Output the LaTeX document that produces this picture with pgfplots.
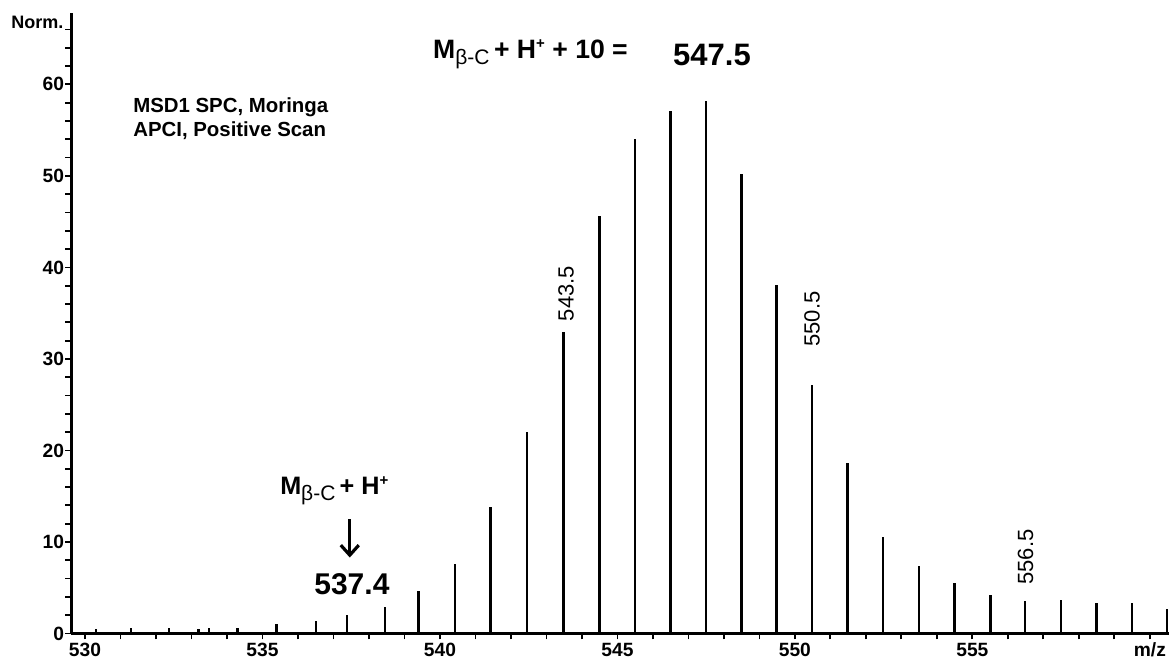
\documentclass[border=0pt]{standalone}
\usepackage{fontspec}
\setmainfont{Liberation Sans}
\usepackage{pgfplots}
\pgfplotsset{compat=1.18}
\usetikzlibrary{arrows.meta}

\pgfplotstableread{
mz     norm
530.31 0.45
531.30 0.55
532.37 0.55
533.20 0.50
533.49 0.60
534.30 0.65
535.40 1.00
536.50 1.35
537.38 2.00
538.46 2.90
539.40 4.60
540.42 7.60
541.42 13.8
542.45 22.0
543.48 32.9
544.50 45.6
545.50 54.0
546.50 57.1
547.50 58.2
548.50 50.2
549.48 38.1
550.48 27.1
551.48 18.6
552.48 10.5
553.50 7.40
554.50 5.50
555.51 4.26
556.49 3.56
557.49 3.70
558.50 3.28
559.49 3.28
560.49 2.66
}\spectrum

\newcommand{\lbl}{\bfseries\fontsize{9.6}{11}\selectfont}
\newcommand{\mbc}{M\raisebox{-0.45ex}{\mdseries\fontsize{10.5}{10.5}\selectfont β-C}\,+ H\raisebox{0.7ex}{\fontsize{7.5}{7.5}\selectfont +}}

\begin{document}
\begin{tikzpicture}
\useasboundingbox (0,0) rectangle (585pt,331pt);
\begin{axis}[at={(35.75pt,14.25pt)},anchor=south west,scale only axis,
  width=548.75pt,height=310.25pt,
  xmin=529.62,xmax=560.54,ymin=0,ymax=67.8,clip=false,
  axis lines=left,axis line style={-,line width=1.1pt},
  tick align=outside,major tick length=3pt,minor tick length=3pt,
  every tick/.style={black,line width=0.9pt},
  xtick={530,535,540,545,550,555,560},
  xticklabels={530,535,540,545,550,555,m/z},
  minor xtick={531,532,533,534,536,537,538,539,541,542,543,544,546,547,548,549,551,552,553,554,556,557,558,559},
  ytick={0,10,20,30,40,50,60},
  minor ytick={2,4,6,8,12,14,16,18,22,24,26,28,32,34,36,38,42,44,46,48,52,54,56,58,62,64,66},
  /pgf/number format/assume math mode=true,
  /pgf/number format/1000 sep={},
  ticklabel style={font=\lbl},
  yticklabel style={inner xsep=0.5pt},
  xticklabel style={inner ysep=1.5pt}]
\addplot[ycomb,black,line width=1.2pt,mark=none] table[x=mz,y=norm]{\spectrum};

\node[anchor=east,font=\bfseries\fontsize{9}{10}\selectfont,inner sep=0pt] at (axis cs:529.4,66.8) {Norm.};
\node[anchor=north west,align=left,font=\bfseries\fontsize{10.2}{12}\selectfont,inner sep=0pt] at (axis cs:531.35,58.6)
  {MSD1 SPC, Moringa\\[0pt]APCI, Positive Scan};

\node[anchor=west,font=\bfseries\fontsize{13.3}{15}\selectfont,inner sep=0pt] at (axis cs:539.8,63.3) {\mbc{} + 10 =};
\node[anchor=west,font=\bfseries\fontsize{15.5}{17}\selectfont,inner sep=0pt] at (axis cs:546.56,63.2) {547.5};

\node[anchor=west,font=\bfseries\fontsize{12.6}{14}\selectfont,inner sep=0pt] at (axis cs:535.49,15.6) {\mbc};
\draw[line width=1.6pt,-{Straight Barb[length=5pt,width=9pt]}] (axis cs:537.46,12.5) -- (axis cs:537.46,8.3);
\node[font=\bfseries\fontsize{15}{17}\selectfont,inner sep=0pt] at (axis cs:537.52,5.4) {537.4};

\node[rotate=90,anchor=west,font=\fontsize{11}{12}\selectfont,inner sep=0pt] at (axis cs:543.55,34.1) {543.5};
\node[rotate=90,anchor=west,font=\fontsize{11}{12}\selectfont,inner sep=0pt] at (axis cs:550.48,31.3) {550.5};
\node[rotate=90,anchor=west,font=\fontsize{11}{12}\selectfont,inner sep=0pt] at (axis cs:556.5,5.3) {556.5};
\end{axis}
\end{tikzpicture}
\end{document}
